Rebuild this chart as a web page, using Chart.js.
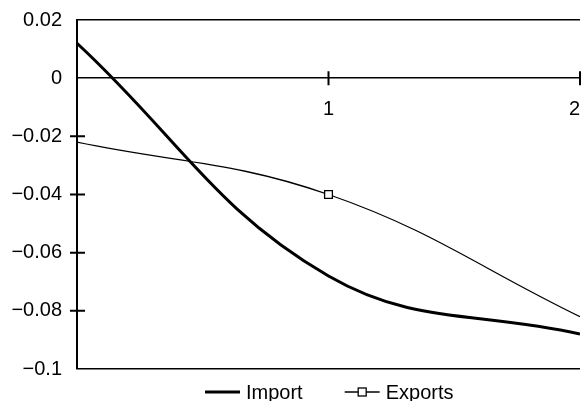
<!DOCTYPE html>
<html>
<head>
<meta charset="utf-8">
<script src="https://cdn.jsdelivr.net/npm/chart.js"></script>
<style>
  html, body { margin: 0; padding: 0; background: #fff; }
  #wrap { width: 582px; height: 401px; }
</style>
</head>
<body>
<div id="wrap"><canvas id="tradeChart"></canvas></div>
<script>
// values
const xValues = [0, 1, 2];
const importValues = [0.012, -0.068, -0.088];
const exportValues = [-0.022, -0.040, -0.082];
const exportMarkers = [0, 1, 0];   // only the middle point carries a marker
const yTicks = [0.02, 0, -0.02, -0.04, -0.06, -0.08, -0.1];
const xTicks = [1, 2];
const frameLines = [0.02, 0, -0.1];

const FONT = "'Liberation Sans', Arial, sans-serif";

function toPoints(values) {
  return xValues.map((x, i) => ({ x: x, y: values[i] }));
}

function fmt(v) {
  const s = String(Number(v.toFixed(2)));
  return s.replace('-', '\u2212');
}

function near(a, b) { return Math.abs(a - b) < 1e-9; }

// crossing tick marks on both axes
const crossTicks = {
  id: 'crossTicks',
  afterDraw(chart) {
    const ctx = chart.ctx;
    const xs = chart.scales.x, ys = chart.scales.y;
    const x0 = xs.getPixelForValue(0), y0 = ys.getPixelForValue(0);
    ctx.save();
    ctx.strokeStyle = '#000';
    ctx.lineWidth = 2;
    ctx.beginPath();
    yTicks.forEach(v => {
      if (frameLines.some(f => near(f, v))) return;
      const y = ys.getPixelForValue(v);
      ctx.moveTo(x0 - 7, y);
      ctx.lineTo(x0 + 8, y);
    });
    xTicks.forEach(v => {
      const x = xs.getPixelForValue(v);
      ctx.moveTo(x, y0 - 7);
      ctx.lineTo(x, y0 + 7);
    });
    ctx.stroke();
    ctx.restore();
  }
};

// legend under the plot
const bottomLegend = {
  id: 'bottomLegend',
  afterDraw(chart) {
    const ctx = chart.ctx;
    const sets = chart.data.datasets;
    const sample = 35, gapText = 6, gapItem = 42;
    ctx.save();
    ctx.font = '20px ' + FONT;
    ctx.textBaseline = 'middle';
    ctx.fillStyle = '#000';
    let x = chart.chartArea.left + 128;
    const y = chart.chartArea.bottom + 23;
    sets.forEach(ds => {
      ctx.strokeStyle = ds.borderColor;
      ctx.lineWidth = ds.borderWidth;
      ctx.beginPath();
      ctx.moveTo(x, y);
      ctx.lineTo(x + sample, y);
      ctx.stroke();
      if (ds.legendMarker) {
        ctx.fillStyle = '#fff';
        ctx.lineWidth = 1.3;
        ctx.fillRect(x + sample / 2 - 4, y - 4, 8, 8);
        ctx.strokeRect(x + sample / 2 - 4, y - 4, 8, 8);
        ctx.fillStyle = '#000';
      }
      x += sample + gapText;
      ctx.fillText(ds.label, x, y + 1);
      x += ctx.measureText(ds.label).width + gapItem;
    });
    ctx.restore();
  }
};

const ctx = document.getElementById('tradeChart').getContext('2d');
const chart = new Chart(ctx, {
  type: 'line',
  data: {
    datasets: [
      {
        label: 'Import',
        data: toPoints(importValues),
        borderColor: '#000',
        borderWidth: 3,
        pointRadius: 0,
        tension: 0.4,
        fill: false
      },
      {
        label: 'Exports',
        data: toPoints(exportValues),
        borderColor: '#000',
        borderWidth: 1.3,
        pointStyle: 'rect',
        pointRadius: exportMarkers.map(m => m ? 5.5 : 0),
        pointBackgroundColor: '#fff',
        pointBorderColor: '#000',
        pointBorderWidth: 1.3,
        tension: 0.4,
        fill: false,
        legendMarker: true
      }
    ]
  },
  options: {
    responsive: true,
    maintainAspectRatio: false,
    animation: false,
    layout: { padding: { top: 20, right: 2, bottom: 32, left: 0 } },
    plugins: {
      legend: { display: false },
      tooltip: { enabled: false }
    },
    scales: {
      x: {
        type: 'linear',
        min: 0,
        max: 2,
        position: { y: 0 },
        grid: { display: false, drawTicks: false },
        border: { display: false },
        afterBuildTicks: s => { s.ticks = [0].concat(xTicks).map(v => ({ value: v })); },
        afterFit: s => { s.height = 0; s.paddingLeft = 0; s.paddingRight = 0; s.paddingTop = 0; s.paddingBottom = 0; },
        ticks: {
          align: 'inner',
          padding: 19,
          color: '#000',
          font: { family: FONT, size: 20 },
          callback: v => (v === 0 ? '' : String(v))
        }
      },
      y: {
        min: -0.1,
        max: 0.02,
        afterBuildTicks: s => { s.ticks = yTicks.map(v => ({ value: v })); },
        afterFit: s => { s.width = 77; s.paddingTop = 0; s.paddingBottom = 0; },
        grid: {
          drawTicks: false,
          lineWidth: 1.5,
          color: c => frameLines.some(f => near(f, c.tick.value)) ? '#000' : 'rgba(0,0,0,0)'
        },
        border: { display: true, color: '#000', width: 2 },
        ticks: {
          padding: 15,
          color: '#000',
          font: { family: FONT, size: 20 },
          callback: v => fmt(v)
        }
      }
    }
  },
  plugins: [crossTicks, bottomLegend]
});
</script>
</body>
</html>
